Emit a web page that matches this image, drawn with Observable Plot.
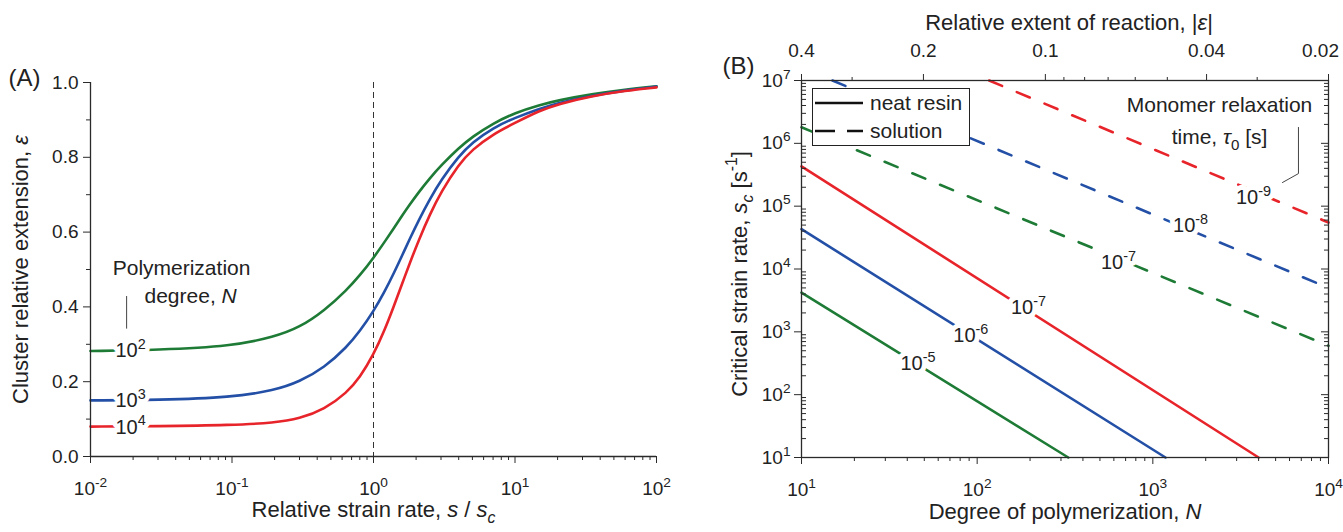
<!DOCTYPE html>
<html><head><meta charset="utf-8">
<script src="https://cdn.jsdelivr.net/npm/d3@7"></script>
<script src="https://cdn.jsdelivr.net/npm/@observablehq/plot@0.6"></script>
<style>
body{margin:0;background:#fff;font-family:"Liberation Sans",Arial,sans-serif;}
#wrap{position:relative;width:1343px;height:532px;overflow:hidden;}
#wrap svg.panel{position:absolute;top:0;}
#legend{position:absolute;left:812px;top:88px;width:158px;height:58px;border:1.3px solid #222;background:#fff;box-sizing:border-box;}
</style></head><body><div id="wrap"></div>
<script>
// ---------- Panel A data ----------
const strainRate = [0.01, 0.03, 0.1, 0.2, 0.3, 0.45, 0.65, 0.8, 1, 1.2, 1.4, 1.6, 1.8, 2.1, 2.5, 3, 4, 5, 7, 10, 15, 20, 35, 60, 100];
const extN100   = [0.282,0.285,0.295,0.32,0.345,0.39,0.446,0.484,0.531,0.574,0.612,0.645,0.673,0.708,0.744,0.778,0.825,0.855,0.891,0.919,0.94,0.952,0.969,0.981,0.99];
const extN1000  = [0.15,0.151,0.158,0.177,0.2,0.238,0.293,0.335,0.388,0.441,0.492,0.539,0.581,0.634,0.688,0.739,0.803,0.84,0.879,0.906,0.93,0.945,0.965,0.979,0.989];
const extN10000 = [0.08,0.081,0.084,0.09,0.101,0.126,0.171,0.211,0.272,0.338,0.404,0.464,0.516,0.581,0.647,0.707,0.781,0.821,0.862,0.892,0.925,0.942,0.964,0.978,0.987];
const degreeLabels = ["10^{2}", "10^{3}", "10^{4}"];
const degreeLabelS = [0.0192, 0.0192, 0.0192];
const degreeLabelExt = [0.282, 0.149, 0.078];
const seriesColors = ["#1e7b36", "#2350a6", "#e8242b"]; // green, blue, red
const xTicksA = [0.01, 0.1, 1, 10, 100];
const yTicksA = [0, 0.2, 0.4, 0.6, 0.8, 1.0];
const yMinorA = [0.1, 0.3, 0.5, 0.7, 0.9];
const polyTitle = ["Polymerization", "degree, *N*"];
const polyTitleS = [0.044, 0.051];
const polyTitleExt = [0.503, 0.428];
const polyLeaderS = [0.018, 0.018];
const polyLeaderExt = [0.428, 0.343];

// ---------- Panel B data ----------
const tauNeat = ["10^{-5}", "10^{-6}", "10^{-7}"];
const neatN0 = [10, 10, 10], neatS0 = [4.2e3, 4.3e4, 4.3e5];
const neatN1 = [330, 1180, 4000], neatS1 = [10, 10, 10];
const neatLabelN = [46, 92, 196], neatLabelS = [309, 870, 2430];
const tauSol = ["10^{-7}", "10^{-8}", "10^{-9}"];
const solN0 = [10, 15, 117], solS0 = [1.8e6, 1e7, 1e7];
const solN1 = [1e4, 1e4, 1e4], solS1 = [600, 5e3, 5.5e4];
const solLabelN = [637, 1640, 3740], solLabelS = [1.26e4, 4.9e4, 1.37e5];
const xTicksB = [10, 100, 1000, 10000];
const yTicksB = [10, 1e2, 1e3, 1e4, 1e5, 1e6, 1e7];
const epsTicksMajor = [0.4, 0.2, 0.1, 0.04, 0.02];
const epsTicksMinor = [0.3, 0.09, 0.08, 0.07, 0.06, 0.05, 0.03];
const epsAtN10 = 0.4, epsAtN10000 = 0.02;
const monoLeaderN = [6745, 6745, 5470], monoLeaderS = [1.79e6, 3.3e5, 2.38e5];
const legendItems = ["neat resin", "solution"];

// ---------- helpers ----------
const FONT = "'Liberation Sans', Arial, Helvetica, sans-serif";
const pow10 = d => `10^{${Math.round(Math.log10(d))}}`;
const minorLog = (lo, hi) => d3.range(Math.log10(lo), Math.log10(hi)).flatMap(e => d3.range(2, 10).map(m => m * 10 ** e));
const epsK = Math.log10(epsAtN10 / epsAtN10000) / 3;
const epsToN = e => 10 * (e / epsAtN10) ** (-1 / epsK);
const AX = "#2a2a2a";
const INK = "#222";

const RE = /(\^\{[^}]*\}|_\{[^}]*\}|\*[^*]+\*)/;
function rich(el) {
  const str = el.textContent;
  if (!RE.test(str)) return;
  const fs = parseFloat(getComputedStyle(el).fontSize) || 18;
  while (el.firstChild) el.removeChild(el.firstChild);
  let off = 0;
  for (const p of str.split(RE)) {
    if (!p) continue;
    const t = document.createElementNS("http://www.w3.org/2000/svg", "tspan");
    let txt = p, target = 0;
    if (p.startsWith("^{")) { txt = p.slice(2, -1); target = -0.42 * fs; t.setAttribute("font-size", (0.72 * fs).toFixed(1)); }
    else if (p.startsWith("_{")) { txt = p.slice(2, -1); target = 0.28 * fs; t.setAttribute("font-size", (0.72 * fs).toFixed(1)); if (/[a-z]/i.test(txt)) t.setAttribute("font-style", "italic"); }
    else if (p.startsWith("*")) { txt = p.slice(1, -1); t.setAttribute("font-style", "italic"); }
    if (target !== off) { t.setAttribute("dy", (target - off).toFixed(2)); off = target; }
    t.textContent = txt;
    el.appendChild(t);
  }
}
// label with a white halo drawn underneath, then the ink on top
const haloText = (data, opts, w) => [
  Plot.text(data, {...opts, fill: "white", stroke: "white", strokeWidth: w}),
  Plot.text(data, {...opts, fill: INK})
];

// ---------- Panel A ----------
const extSeries = [extN100, extN1000, extN10000];
const rowsA = extSeries.flatMap((arr, k) => arr.map((v, i) => ({s: strainRate[i], e: v, k})));
const labA = degreeLabels.map((t, i) => ({t, s: degreeLabelS[i], e: degreeLabelExt[i]}));
const plotA = Plot.plot({
  width: 671, height: 532, marginLeft: 90, marginRight: 15, marginTop: 82, marginBottom: 76,
  x: {type: "log", domain: [0.01, 100], label: null},
  y: {domain: [0, 1], label: null},
  style: {fontFamily: FONT, fontSize: "19px", color: INK, background: "white", overflow: "visible"},
  marks: [
    Plot.ruleX([1], {stroke: "#333", strokeWidth: 1, strokeDasharray: "6,4"}),
    ...extSeries.map((arr, k) => Plot.line(rowsA.filter(d => d.k === k), {x: "s", y: "e", stroke: seriesColors[k], strokeWidth: 2.6, curve: "basis"})),
    ...haloText(labA, {x: "s", y: "e", text: "t", fontSize: 20}, 9),
    Plot.text(polyTitle, {x: (d, i) => polyTitleS[i], y: (d, i) => polyTitleExt[i], text: d => d, fontSize: 21, fill: INK}),
    Plot.line(polyLeaderS.map((s, i) => ({s, e: polyLeaderExt[i]})), {x: "s", y: "e", stroke: "#444", strokeWidth: 1}),
    Plot.ruleX([0.01], {stroke: AX, strokeWidth: 1.3}),
    Plot.ruleY([0], {stroke: AX, strokeWidth: 1.3}),
    Plot.axisX({ticks: xTicksA, tickFormat: pow10, tickSize: 7, tickPadding: 18, label: null, stroke: AX, fontSize: 19}),
    Plot.axisX({ticks: minorLog(0.01, 100), tickSize: 4, tickFormat: () => "", label: null, stroke: AX}),
    Plot.axisY({ticks: yTicksA, tickFormat: d3.format(".1f"), tickSize: 7, tickPadding: 5, label: null, stroke: AX, fontSize: 19}),
    Plot.axisY({ticks: yMinorA, tickSize: 4, tickFormat: () => "", label: null, stroke: AX}),
    Plot.text(["Cluster relative extension, *ε*"], {frameAnchor: "left", textAnchor: "middle", rotate: -90, dx: -70, fontSize: 22, fill: INK}),
    Plot.text(["Relative strain rate, *s* / *s*_{c}"], {frameAnchor: "bottom", dy: 60, fontSize: 22, fill: INK}),
    Plot.text(["(A)"], {frameAnchor: "top-left", textAnchor: "start", lineAnchor: "middle", dx: -82, dy: -4, fontSize: 24, fill: INK})
  ]
});
plotA.classList.add("panel");
plotA.style.left = "0px";

// ---------- Panel B ----------
const mkSeg = (n0, s0, n1, s1) => n0.map((_, k) => [{N: n0[k], s: s0[k]}, {N: n1[k], s: s1[k]}]);
const neatSegs = mkSeg(neatN0, neatS0, neatN1, neatS1);
const solSegs = mkSeg(solN0, solS0, solN1, solS1);
const neatLabs = tauNeat.map((t, i) => ({t, N: neatLabelN[i], s: neatLabelS[i]}));
const solLabs = tauSol.map((t, i) => ({t, N: solLabelN[i], s: solLabelS[i]}));
const WB = 672, mlB = 130, mrB = 15;
const plotWB = WB - mlB - mrB;
const plotB = Plot.plot({
  width: WB, height: 532, marginLeft: mlB, marginRight: mrB, marginTop: 80, marginBottom: 75,
  x: {type: "log", domain: [10, 1e4], label: null},
  y: {type: "log", domain: [10, 1e7], label: null},
  style: {fontFamily: FONT, fontSize: "19px", color: INK, background: "white", overflow: "visible"},
  marks: [
    ...neatSegs.map((seg, k) => Plot.line(seg, {x: "N", y: "s", stroke: seriesColors[k], strokeWidth: 2.6})),
    ...solSegs.map((seg, k) => Plot.line(seg, {x: "N", y: "s", stroke: seriesColors[k], strokeWidth: 2.6, strokeDasharray: "14,16"})),
    ...haloText(neatLabs, {x: "N", y: "s", text: "t", fontSize: 20}, 10),
    ...haloText(solLabs, {x: "N", y: "s", text: "t", fontSize: 20}, 10),
    Plot.text(["Monomer relaxation"], {frameAnchor: "top-right", textAnchor: "middle", lineAnchor: "middle", dx: -109, dy: 25, fontSize: 21, fill: INK}),
    Plot.text(["time, *τ*_{0} [s]"], {frameAnchor: "top-right", textAnchor: "middle", lineAnchor: "middle", dx: -109, dy: 57, fontSize: 21, fill: INK}),
    Plot.line(monoLeaderN.map((N, i) => ({N, s: monoLeaderS[i]})), {x: "N", y: "s", stroke: "#444", strokeWidth: 1}),
    Plot.frame({stroke: AX, strokeWidth: 1.3}),
    Plot.axisX({ticks: xTicksB, tickFormat: pow10, tickSize: 7, tickPadding: 18, label: null, stroke: AX, fontSize: 19}),
    Plot.axisX({ticks: minorLog(10, 1e4), tickSize: 4, tickFormat: () => "", label: null, stroke: AX}),
    Plot.axisX({anchor: "top", ticks: epsTicksMajor.map(epsToN), tickSize: 7, tickFormat: () => "", label: null, stroke: AX}),
    Plot.axisX({anchor: "top", ticks: epsTicksMinor.map(epsToN), tickSize: 4, tickFormat: () => "", label: null, stroke: AX}),
    Plot.text(epsTicksMajor.slice(0, -1), {x: d => epsToN(d), frameAnchor: "top", lineAnchor: "middle", dy: -30, text: d => String(d), fontSize: 19, fill: INK}),
    Plot.text(epsTicksMajor.slice(-1), {x: d => epsToN(d), frameAnchor: "top", lineAnchor: "middle", dy: -30, dx: -8, text: d => String(d), fontSize: 19, fill: INK}),
    Plot.axisY({ticks: yTicksB, tickFormat: pow10, tickSize: 7, tickPadding: 4, label: null, stroke: AX, fontSize: 19}),
    Plot.tickY(minorLog(10, 1e7), {insetRight: plotWB - 5, stroke: AX, strokeWidth: 1}),
    Plot.tickY(yTicksB, {insetLeft: plotWB - 7, stroke: AX, strokeWidth: 1}),
    Plot.tickY(minorLog(10, 1e7), {insetLeft: plotWB - 4, stroke: AX, strokeWidth: 1}),
    Plot.text(["Critical strain rate, *s*_{c} [s^{-1}]"], {frameAnchor: "left", textAnchor: "middle", rotate: -90, dx: -62, dy: 5, fontSize: 22, fill: INK}),
    Plot.text(["Degree of polymerization, *N*"], {frameAnchor: "bottom", dy: 61, fontSize: 22, fill: INK}),
    Plot.text(["Relative extent of reaction, |*ε*|"], {frameAnchor: "top", lineAnchor: "middle", dy: -58, dx: 4, fontSize: 22, fill: INK}),
    Plot.text(["(B)"], {frameAnchor: "top-left", textAnchor: "start", lineAnchor: "middle", dx: -79, dy: -14, fontSize: 24, fill: INK})
  ]
});
plotB.classList.add("panel");
plotB.style.left = "671px";

const wrap = document.getElementById("wrap");
wrap.appendChild(plotA);
wrap.appendChild(plotB);
for (const svg of [plotA, plotB]) svg.querySelectorAll("text").forEach(rich);

// ---------- Legend for panel B ----------
const leg = document.createElement("div");
leg.id = "legend";
const NS = "http://www.w3.org/2000/svg";
const lsvg = document.createElementNS(NS, "svg");
lsvg.setAttribute("width", 156); lsvg.setAttribute("height", 56);
legendItems.forEach((name, i) => {
  const y = 14 + i * 28;
  const ln = document.createElementNS(NS, "line");
  ln.setAttribute("x1", 2); ln.setAttribute("x2", 50); ln.setAttribute("y1", y); ln.setAttribute("y2", y);
  ln.setAttribute("stroke", "#111"); ln.setAttribute("stroke-width", 2.6);
  if (i === 1) ln.setAttribute("stroke-dasharray", "20,12");
  lsvg.appendChild(ln);
  const tx = document.createElementNS(NS, "text");
  tx.setAttribute("x", 57); tx.setAttribute("y", y); tx.setAttribute("dy", "0.35em");
  tx.setAttribute("font-family", FONT); tx.setAttribute("font-size", 21); tx.setAttribute("fill", INK);
  tx.textContent = name;
  lsvg.appendChild(tx);
});
leg.appendChild(lsvg);
wrap.appendChild(leg);
</script></body></html>
